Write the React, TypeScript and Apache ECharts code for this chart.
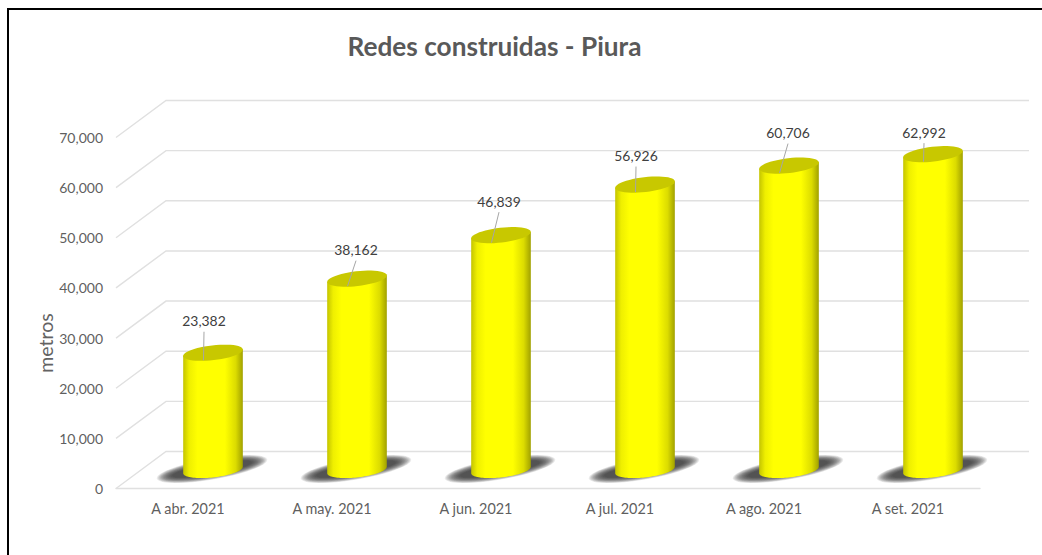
import React, { useEffect, useRef } from "react";
import * as echarts from "echarts";

const categories = ["A abr. 2021", "A may. 2021", "A jun. 2021", "A jul. 2021", "A ago. 2021", "A set. 2021"];
const metros = [23382, 38162, 46839, 56926, 60706, 62992];
const gridTicks = [0, 10000, 20000, 30000, 40000, 50000, 60000, 70000];

// leader-label placement relative to the top of each cylinder
const labelShiftX = [-9, -1, -2, -9, -1, -9];
const labelShiftY = [-32, -29, -34, -29, -33, -22];

const FONT = "Lato, Carlito, 'Open Sans', sans-serif";
const DEPTH_X = 50;
const DEPTH_Y = -37;
const RX = 30;
const RY = 7.4;
const TILT = 0.115;
const SHADOW_LAYERS = 16;

function ellipsePts(cx: number, cy: number, rx: number, ry: number, a: number, from = 0, to = Math.PI * 2, n = 48) {
  const pts: number[][] = [];
  for (let i = 0; i <= n; i++) {
    const t = from + ((to - from) * i) / n;
    pts.push([
      cx + rx * Math.cos(t) * Math.cos(a) + ry * Math.sin(t) * Math.sin(a),
      cy - rx * Math.cos(t) * Math.sin(a) + ry * Math.sin(t) * Math.cos(a),
    ]);
  }
  return pts;
}

function renderWall(params: any, api: any) {
  const v = api.value(0);
  const cs = params.coordSys;
  const y = api.coord([0, v])[1];
  return {
    type: "polyline",
    silent: true,
    shape: {
      points: [
        [cs.x, y],
        [cs.x + DEPTH_X, y + DEPTH_Y],
        [cs.x + cs.width + DEPTH_X - 1, y + DEPTH_Y],
      ],
    },
    style: { stroke: "#e0e0e0", lineWidth: 1.4, fill: "none" },
  };
}

function renderCylinder(params: any, api: any) {
  const i = api.value(0);
  const val = api.value(1);
  const base = api.coord([i, 0]);
  const top = api.coord([i, val]);
  const cx = base[0] + DEPTH_X / 2;
  const by = base[1] + DEPTH_Y / 2;
  const ty = top[1] + DEPTH_Y / 2;
  const t0 = Math.atan((RY / RX) * Math.tan(TILT));
  const lower = ellipsePts(cx, by, RX, RY, TILT, t0, t0 + Math.PI);
  const topLower = ellipsePts(cx, ty, RX, RY, TILT, t0, t0 + Math.PI, 1);
  const gradient = new echarts.graphic.LinearGradient(0, 0, 1, 0, [
    { offset: 0, color: "#c4c400" },
    { offset: 0.1, color: "#efef00" },
    { offset: 0.24, color: "#ffff00" },
    { offset: 0.7, color: "#ffff00" },
    { offset: 0.88, color: "#dcdc00" },
    { offset: 0.97, color: "#b0b000" },
    { offset: 1, color: "#a0a000" },
  ]);
  const lx = cx + labelShiftX[params.dataIndex];
  const ly = ty + labelShiftY[params.dataIndex];
  const shadow = Array.from({ length: SHADOW_LAYERS }, (_, k) => {
    const f = k / (SHADOW_LAYERS - 1);
    return {
      type: "polygon",
      shape: { points: ellipsePts(cx - 1, by - 1, 56 - 16 * f, 10.5 - 5.5 * f, 0.17) },
      style: { fill: "#303030", opacity: 0.1 },
    };
  });
  return {
    type: "group",
    silent: true,
    children: [
      ...shadow,
      {
        type: "polygon",
        shape: { points: [...lower, topLower[1], topLower[0]] },
        style: { fill: gradient },
      },
      {
        type: "polygon",
        shape: { points: ellipsePts(cx, ty, RX, RY, TILT) },
        style: { fill: "#c8c800" },
      },
      {
        type: "line",
        shape: { x1: lx, y1: ly + 11, x2: cx - 9.5, y2: ty + 7.5 },
        style: { stroke: "#a6a6a6", lineWidth: 1 },
      },
      {
        type: "text",
        style: {
          x: lx,
          y: ly,
          text: val.toLocaleString("en-US"),
          fill: "#404040",
          font: `13.9px ${FONT}`,
          align: "center",
          verticalAlign: "middle",
        },
      },
    ],
  };
}

export default function App() {
  const ref = useRef<HTMLDivElement>(null);
  useEffect(() => {
    document.body.style.margin = "0";
    const chart = echarts.init(ref.current!, null, { renderer: "svg" });
    chart.setOption({
      animation: false,
      backgroundColor: "#ffffff",
      title: {
        text: "Redes construidas - Piura",
        left: 489.5,
        top: 28,
        textAlign: "center",
        textStyle: { fontFamily: FONT, fontSize: 26.2, fontWeight: "bold", color: "#595959" },
      },
      grid: { left: 116, top: 137.5, width: 864, height: 351 },
      xAxis: {
        type: "category",
        data: categories,
        axisTick: { show: false },
        axisLine: { lineStyle: { color: "#e0e0e0", width: 1.4 } },
        axisLabel: { color: "#5f5f5f", fontFamily: FONT, fontSize: 14.4, margin: 13 },
      },
      yAxis: {
        type: "value",
        min: 0,
        max: 70000,
        interval: 10000,
        splitLine: { show: false },
        axisTick: { show: false },
        axisLine: { show: false },
        axisLabel: {
          color: "#5f5f5f",
          fontFamily: FONT,
          fontSize: 14,
          margin: 13,
          formatter: (v: number) => v.toLocaleString("en-US"),
        },
      },
      graphic: [
        { type: "rect", silent: true, shape: { x: 7, y: 8, width: 1035, height: 2 }, style: { fill: "#000" } },
        { type: "rect", silent: true, shape: { x: 7, y: 8, width: 2, height: 547 }, style: { fill: "#000" } },
        {
          type: "text",
          silent: true,
          x: 45,
          y: 343,
          rotation: Math.PI / 2,
          style: {
            text: "metros",
            fill: "#636363",
            font: `19.5px ${FONT}`,
            align: "center",
            verticalAlign: "middle",
          },
        },
      ],
      series: [
        {
          type: "custom",
          z: 1,
          clip: false,
          renderItem: renderWall,
          encode: { y: 0 },
          data: gridTicks.map((v) => [v]),
        },
        {
          type: "custom",
          z: 2,
          clip: false,
          renderItem: renderCylinder,
          encode: { x: 0, y: 1 },
          data: metros.map((v, i) => [i, v]),
        },
      ],
    });
    return () => chart.dispose();
  }, []);
  return <div ref={ref} style={{ width: 1042, height: 555, position: "absolute", left: 0, top: 0 }} />;
}
